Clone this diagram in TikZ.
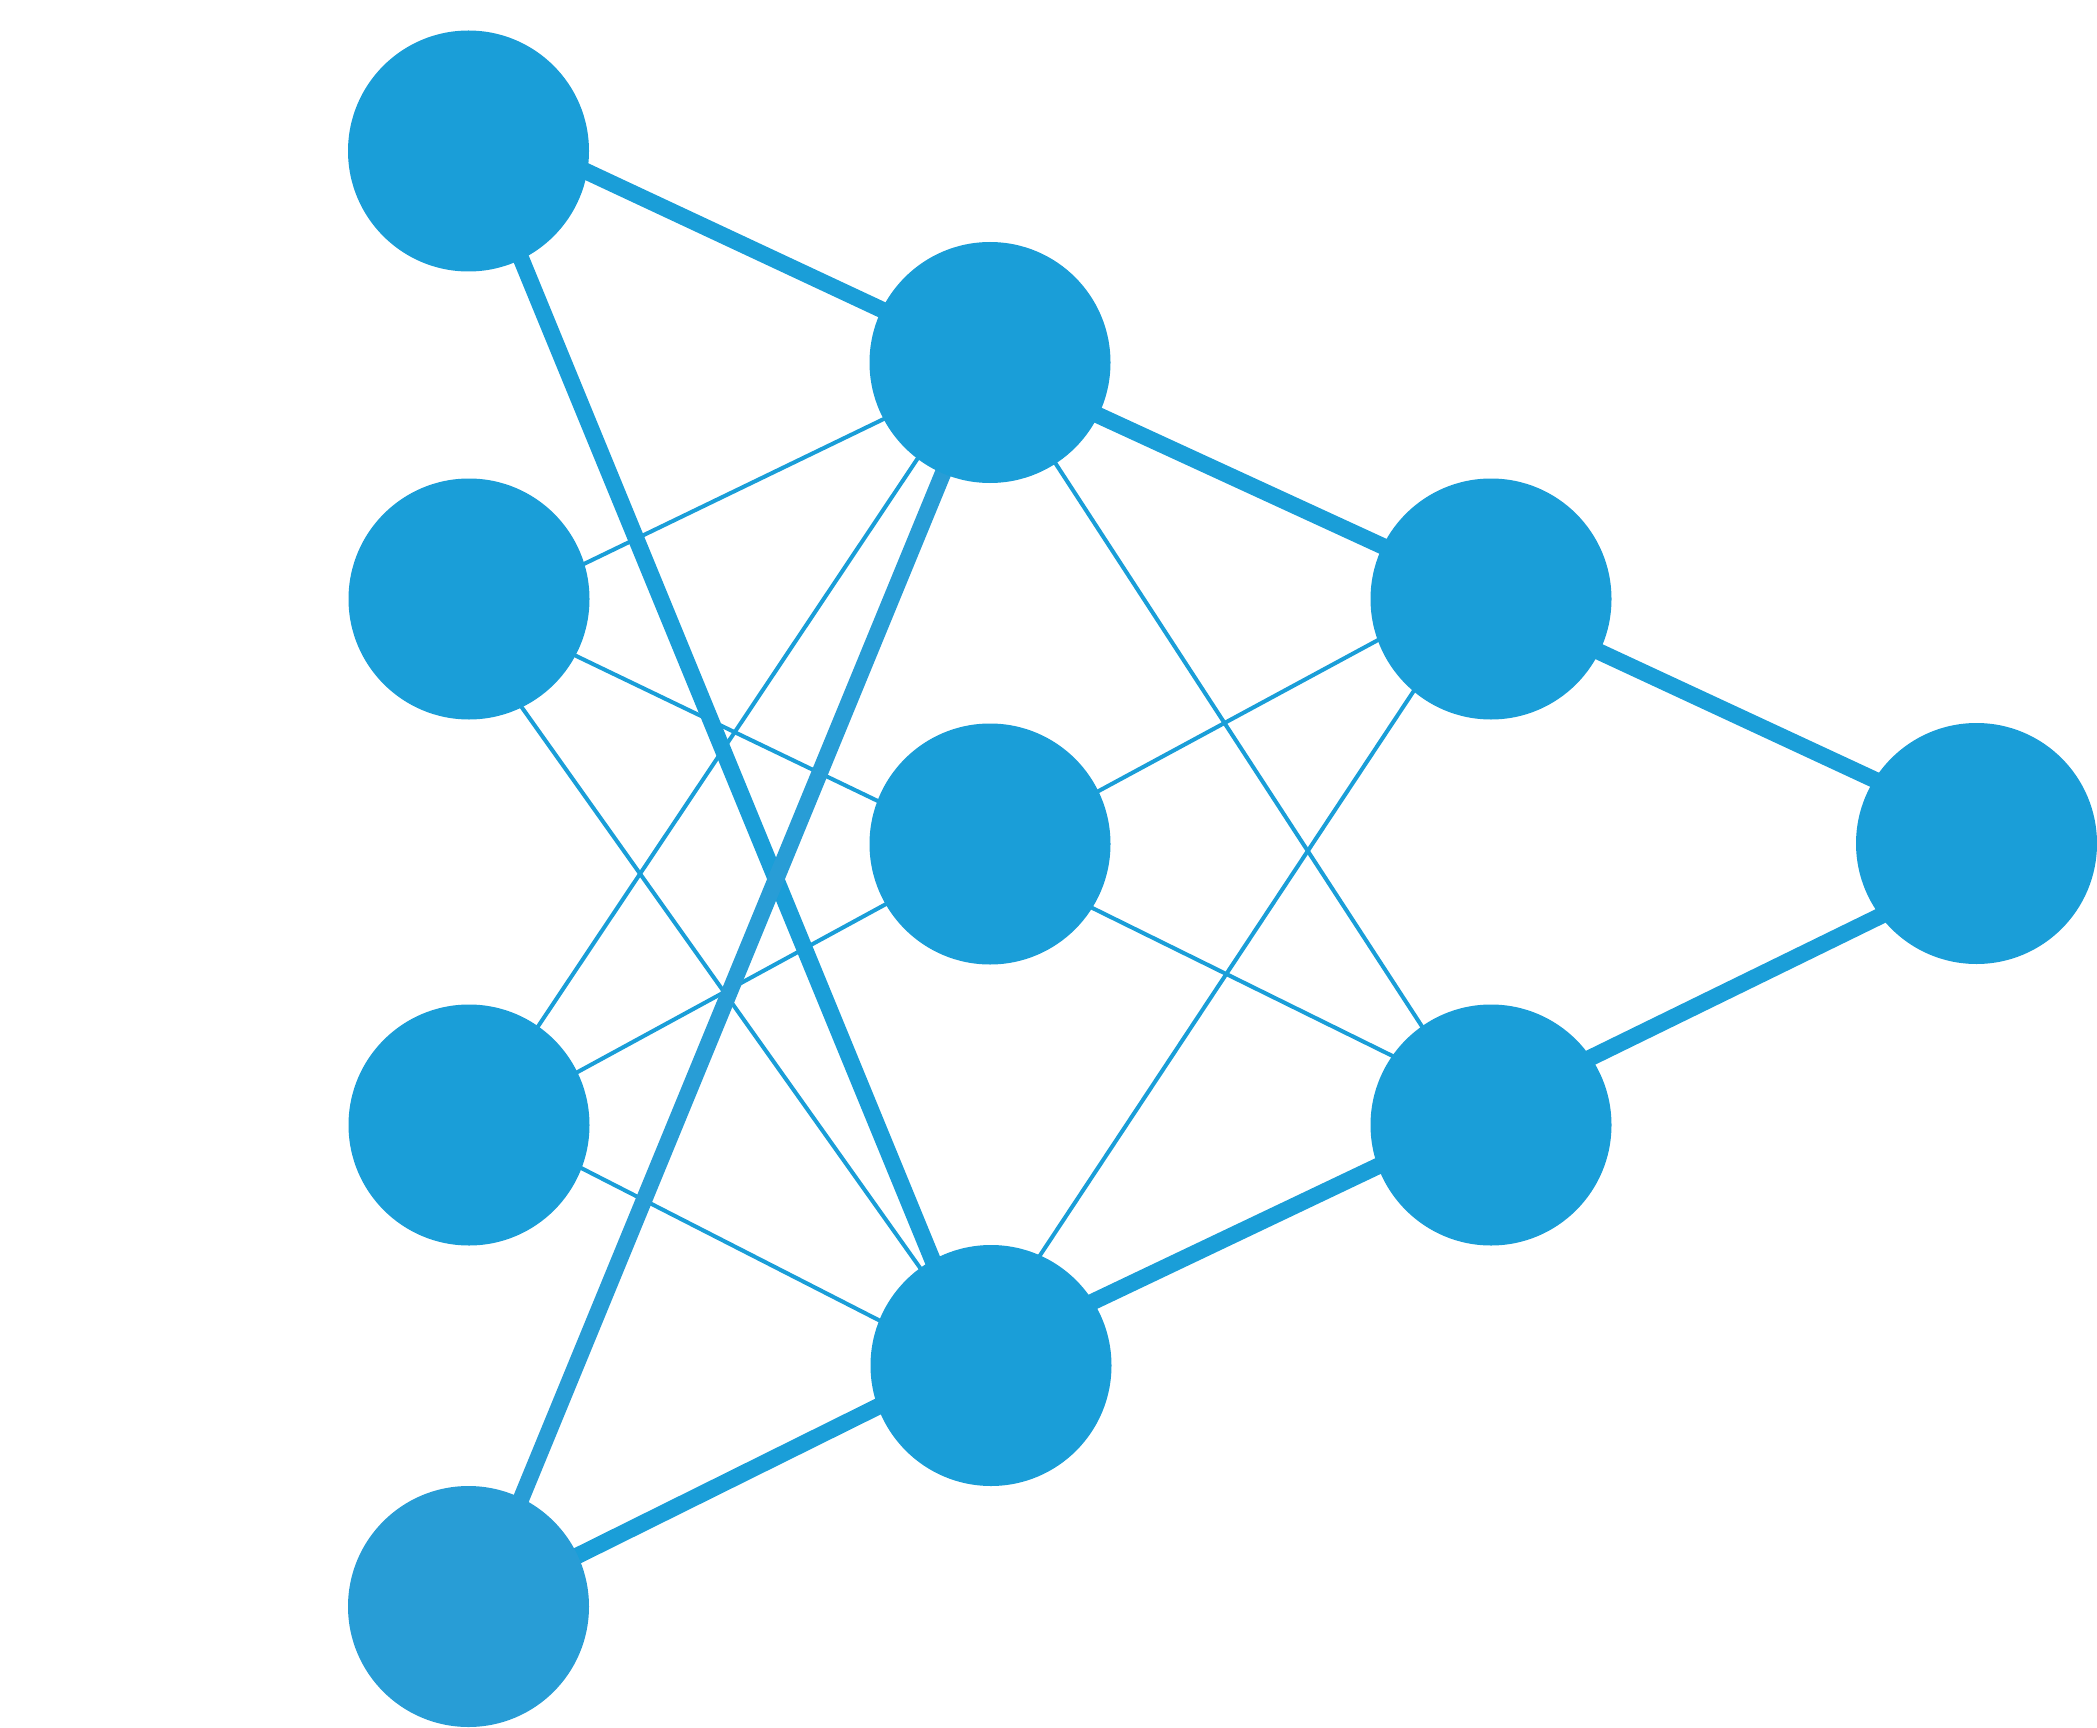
\documentclass[tikz,border=0pt]{standalone}
\definecolor{nblue}{HTML}{1A9ED8}
\definecolor{lblue}{HTML}{289DD6}
\begin{document}
\begin{tikzpicture}[x=1pt,y=-1pt,
  neuron/.style={circle,draw=none,minimum size=241pt,inner sep=0pt},
  thick edge/.style={draw=nblue,line width=16.5pt,shorten <=-20pt,shorten >=-20pt},
  thin edge/.style={draw=nblue,line width=4pt,shorten <=-20pt,shorten >=-20pt},
  disc/.style={fill=nblue},
  disclight/.style={fill=lblue}]
\useasboundingbox (0,0) rectangle (2097,1728);
% neuron positions
\node[neuron] (A1) at (468.5,151) {};
\node[neuron] (A2) at (469,599) {};
\node[neuron] (A3) at (469,1125) {};
\node[neuron] (A4) at (468.5,1606.5) {};
\node[neuron] (B1) at (990,362.5) {};
\node[neuron] (B2) at (990,844) {};
\node[neuron] (B3) at (991,1365.5) {};
\node[neuron] (C1) at (1491,599) {};
\node[neuron] (C2) at (1491,1125) {};
\node[neuron] (D) at (1976.5,843.5) {};
% thin edges
\draw[thin edge] (A2.17.0) -- (B1.208.9);
\draw[thin edge] (A2.332.3) -- (B2.159.7);
\draw[thin edge] (A2.296.0) -- (B3.126.0);
\draw[thin edge] (A3.55.1) -- (B1.233.2);
\draw[thin edge] (A3.26.8) -- (B2.210.3);
\draw[thin edge] (A3.339.2) -- (B3.158.8);
\draw[thin edge] (B1.303.1) -- (C2.125.9);
\draw[thin edge] (B2.26.1) -- (C1.200.0);
\draw[thin edge] (B2.328.1) -- (C2.145.8);
\draw[thin edge] (B3.66.4) -- (C1.230.0);
% thick edges
\draw[thick edge] (A1.350.1) -- (B1.154.2);
\draw[thick edge] (A1.296.0) -- (B3.119.5);
\draw[thick edge] (A4.25.6) -- (B3.200.5);
\draw[thick edge] (B1.334.6) -- (C1.154.7);
\draw[thick edge] (C1.334.3) -- (D.148.5);
\draw[thick edge] (B3.32.2) -- (C2.200.6);
\draw[thick edge] (C2.34.0) -- (D.217.2);
\draw[thick edge,draw=lblue] (A4.64.1) -- (B1.247.6);
% neuron discs on top
\fill[disc] (A1) circle[radius=120.5];
\fill[disc] (A2) circle[radius=120.5];
\fill[disc] (A3) circle[radius=120.5];
\fill[disclight] (A4) circle[radius=120.5];
\fill[disc] (B1) circle[radius=120.5];
\fill[disc] (B2) circle[radius=120.5];
\fill[disc] (B3) circle[radius=120.5];
\fill[disc] (C1) circle[radius=120.5];
\fill[disc] (C2) circle[radius=120.5];
\fill[disc] (D) circle[radius=120.5];
\end{tikzpicture}
\end{document}
